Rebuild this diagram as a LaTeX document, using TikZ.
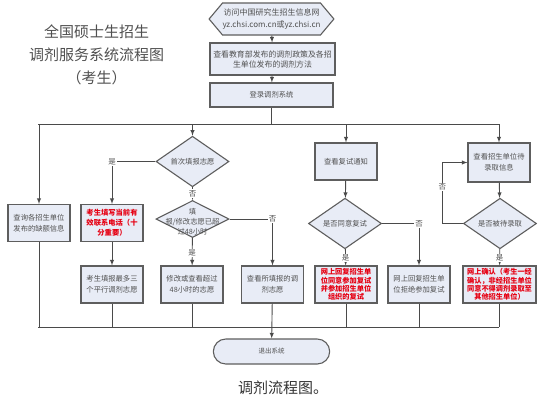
\documentclass[tikz,border=0pt]{standalone}
\usepackage{fontspec}
\newfontfamily\cjk{Noto Sans CJK SC}
\usepackage{tikz}
\usetikzlibrary{arrows,shapes.geometric,shapes.symbols,shapes.misc}
\definecolor{boxfill}{HTML}{E8ECF6}
\definecolor{boxline}{HTML}{5E5E5E}
\definecolor{flowline}{HTML}{4A4A4A}
\definecolor{boxtext}{HTML}{505050}
\definecolor{alert}{HTML}{E60012}

\begin{document}
\begin{tikzpicture}[x=1pt,y=-1pt,>=latex]

	\tikzstyle flow=[draw=flowline, line width=0.9pt];
	\tikzstyle procbox=[draw=boxline, fill=boxfill, line width=1.1pt, minimum width=62pt, minimum height=37pt, inner sep=1pt, align=center, text=boxtext, font=\cjk\fontsize{7.3}{11}\selectfont];
	\tikzstyle alertbox=[procbox, text=alert, font=\cjk\bfseries\fontsize{7.3}{10}\selectfont];
	\tikzstyle alertlong=[alertbox, font=\cjk\bfseries\fontsize{7.2}{8.2}\selectfont];
	\tikzstyle decision=[diamond, draw=boxline, fill=boxfill, line width=1.1pt, minimum width=73pt, minimum height=37pt, inner sep=0pt, align=center, text=boxtext, font=\cjk\fontsize{7.3}{10}\selectfont];
	\tikzstyle yn=[fill=white, inner sep=1pt, text=boxtext, font=\cjk\fontsize{7.5}{9}\selectfont];

	\useasboundingbox[fill=white] (0,0) rectangle (549,400);

	\node[text=boxtext, align=center, font=\cjk\fontsize{15}{23}\selectfont] (title) at (96.5,55)
		{全国硕士生招生\\调剂服务系统流程图\\（考生）};

	\node[signal, signal to=west and east, signal pointer angle=100, draw=boxline, fill=boxfill, line width=1.1pt,
		minimum width=123pt, minimum height=32pt, inner sep=0pt, align=center, text=boxtext,
		font=\cjk\fontsize{8}{12}\selectfont] (visit) at (271.5,19) {访问中国研究生招生信息网\\yz.chsi.com.cn或yz.chsi.cn};
	\node[procbox, minimum width=125pt, minimum height=32pt, font=\cjk\fontsize{7.9}{10}\selectfont] (policy) at (272.5,59)
		{查看教育部发布的调剂政策及各招\\生单位发布的调剂方法};
	\node[procbox, minimum width=123pt, minimum height=24pt] (login) at (271.5,95) {登录调剂系统};

	\node[procbox] (vacancy) at (39,223) {查询各招生单位\\发布的缺额信息};
	\node[decision] (first) at (192.5,161.5) {首次填报志愿};
	\node[alertbox] (phone) at (112,223) {考生填写当前有\\效联系电话（十\\分重要）};
	\node[decision] (overdue) at (192.5,219) {};
	\node[text=boxtext, align=center, font=\cjk\fontsize{7.3}{10}\selectfont] (overduetext) at (192.5,221.5)
		{填\\报/修改志愿已超\\过48小时};
	\node[procbox] (choose) at (112,284.5) {考生填报最多三\\个平行调剂志愿};
	\node[procbox] (modify) at (192,284.5) {修改或查看超过\\48小时的志愿};
	\node[procbox] (view) at (272.5,284.5) {查看所填报的调\\剂志愿};

	\node[procbox] (notice) at (346,161.5) {查看复试通知};
	\node[decision] (agree) at (345,223.5) {是否同意复试};
	\node[alertlong] (accept) at (346,284.5) {网上回复招生单\\位同意参加复试\\并参加招生单位\\组织的复试};
	\node[procbox] (refuse) at (419,284.5) {网上回复招生单\\位拒绝参加复试};

	\node[procbox, minimum height=39pt] (admit) at (499,162.5) {查看招生单位待\\录取信息};
	\node[decision] (pending) at (500,223.5) {是否被待录取};
	\node[alertlong, minimum width=73pt] (confirm) at (499.5,284.5) {网上确认（考生一经\\确认，非经招生单位\\同意不得调剂录取至\\其他招生单位）};

	\node[rounded rectangle, draw=boxline, fill=boxfill, line width=1.1pt, minimum width=123pt, minimum height=25pt,
		text=boxtext, font=\cjk\fontsize{6.5}{8}\selectfont] (quit) at (271.5,351.5) {退出系统};

	\node[text=black!80, font=\cjk\fontsize{15}{18}\selectfont] (caption) at (283,388) {调剂流程图。};

	\coordinate (topleft) at (38,124);
	\coordinate (topright) at (499,124);
	\coordinate (botleft) at (38,327);
	\coordinate (botright) at (499,327);

	\draw[flow,->] (visit) -- (policy);
	\draw[flow,->] (policy) -- (login);
	\draw[flow] (login) -- (login |- topleft);
	\draw[flow] (topleft) -- (topright);
	\foreach \n in {vacancy,first,notice,admit}
		\draw[flow,->] (\n.north |- topleft) -- (\n.north);

	\draw[flow,->] (first.west) -| node[yn] {是} (phone.north);
	\draw[flow,->] (first) -- node[yn] {否} (overdue);
	\draw[flow,->] (phone) -- (choose);
	\draw[flow,->] (overdue.east) -| node[yn] {否} (view.north);
	\draw[flow,->] (overdue) -- node[yn,pos=0.55] {是} (modify);

	\draw[flow,->] (notice) -- (agree);
	\draw[flow,->] (agree) -- node[yn,pos=0.55] {是} (accept);
	\draw[flow,->] (agree.east) -| node[yn] {否} (refuse.north);

	\draw[flow,->] (admit) -- (pending);
	\draw[flow,->] (pending) -- node[yn,pos=0.55] {是} (confirm);
	\draw[flow,->] (pending.west) -| node[yn,pos=0.8] {否} ([xshift=-25pt]admit.west) -- (admit.west);

	\draw[flow] (botleft) -- (botright);
	\foreach \n in {vacancy,choose,modify,accept,refuse,confirm}
		\draw[flow] (\n.south) -- (\n.south |- botleft);
	\draw[flow,->] (view) -- (quit);

\end{tikzpicture}
\end{document}
